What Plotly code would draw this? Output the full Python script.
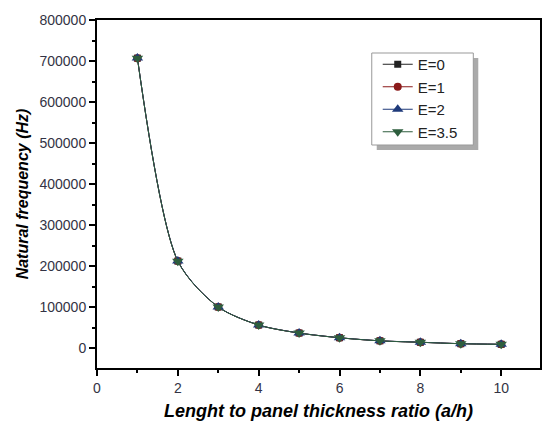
import plotly.graph_objects as go

ratio = [1, 2, 3, 4, 5, 6, 7, 8, 9, 10]
freq_e0 = [707000, 212000, 100000, 56000, 36500, 25000, 17500, 14000, 10500, 9000]
freq_e1 = [707000, 212000, 100000, 56000, 36500, 25000, 17500, 14000, 10500, 9000]
freq_e2 = [707500, 212500, 100200, 56100, 36600, 25100, 17600, 14100, 10600, 9100]
freq_e35 = [706500, 211500, 99800, 55900, 36400, 24900, 17400, 13900, 10400, 8900]

series = [
    ("E=0", freq_e0, "#222222", "square", 7),
    ("E=1", freq_e1, "#8b1a1a", "circle", 8),
    ("E=2", freq_e2, "#1f3a7a", "triangle-up", 10),
    ("E=3.5", freq_e35, "#2e5e3e", "triangle-down", 10),
]

fig = go.Figure()
for name, vals, col, sym, sz in series:
    fig.add_trace(go.Scatter(
        x=ratio, y=vals, name=name, mode="lines+markers",
        line=dict(color=col, width=1, shape="spline", smoothing=0.8),
        marker=dict(symbol=sym, size=sz, color=col),
    ))

L, T, W, H = 97, 20, 445, 348


def px(x):
    return (x - L) / W


def py(y):
    return (T + H - y) / H


fig.update_layout(
    width=542, height=425,
    margin=dict(l=L, r=0, t=T, b=425 - T - H),
    plot_bgcolor="white", paper_bgcolor="white",
    font=dict(family="Liberation Sans, Arial", size=14, color="#333344"),
    legend=dict(
        x=px(379), y=py(48), xanchor="left", yanchor="top",
        bgcolor="rgba(0,0,0,0)", borderwidth=0,
        font=dict(size=15, color="#222222"),
        itemwidth=30, tracegroupgap=0,
    ),
    xaxis=dict(
        range=[0, 10.96], tickvals=[0, 2, 4, 6, 8, 10],
        ticks="outside", ticklen=6, tickwidth=1.5, tickcolor="black",
        minor=dict(tickvals=[1, 3, 5, 7, 9], ticks="outside", ticklen=3, tickcolor="black", tickwidth=1.5),
        showline=True, linewidth=2, linecolor="black", mirror=True,
        showgrid=False, zeroline=False,
        title=dict(text="<b><i>Lenght to panel thickness ratio (a/h)</i></b>",
                   font=dict(size=18, color="black"), standoff=10),
    ),
    yaxis=dict(
        range=[-48780, 800000],
        tickvals=[0, 100000, 200000, 300000, 400000, 500000, 600000, 700000, 800000],
        ticktext=["0", "100000", "200000", "300000", "400000", "500000", "600000", "700000", "800000"],
        ticks="outside", ticklen=6, tickwidth=1.5, tickcolor="black",
        minor=dict(tickvals=[-50000, 50000, 150000, 250000, 350000, 450000, 550000, 650000, 750000],
                   ticks="outside", ticklen=3, tickcolor="black", tickwidth=1.5),
        showline=True, linewidth=2, linecolor="black", mirror=True,
        showgrid=False, zeroline=False,
        title=dict(text="<b><i>Natural frequency (Hz)</i></b>",
                   font=dict(size=16, color="black"), standoff=7),
    ),
)

fig.add_shape(type="rect", xref="paper", yref="paper",
              x0=px(378), x1=px(480), y0=py(150), y1=py(58),
              fillcolor="#aaaaaa", line=dict(width=0), layer="below")
fig.add_shape(type="rect", xref="paper", yref="paper",
              x0=px(373), x1=px(475), y0=py(145), y1=py(53),
              fillcolor="white", line=dict(width=1, color="#999999"), layer="below")

fig.write_html("out.html")
